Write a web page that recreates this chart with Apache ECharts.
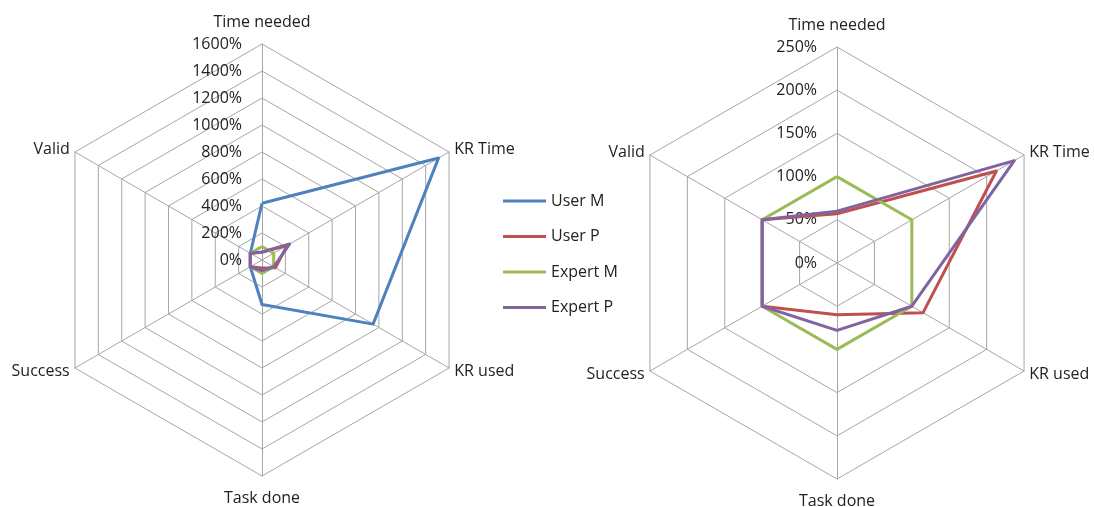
<!DOCTYPE html>
<html><head><meta charset="utf-8">
<script src="https://cdn.jsdelivr.net/npm/echarts@6/dist/echarts.min.js"></script>
<style>html,body{margin:0;padding:0;background:#fff}#c{width:1094px;height:507px}</style>
</head><body><div id="c"></div>
<script>
// Categories in the reference (clockwise from top)
const categories = ['Time needed', 'KR Time', 'KR used', 'Task done', 'Success', 'Valid'];
const seriesNames = ['User M', 'User P', 'Expert M', 'Expert P'];
const userM   = [420, 1510, 950, 330, 100, 100];
const userP   = [57, 213, 115, 60, 100, 100];
const expertM = [100, 100, 100, 100, 100, 100];
const expertP = [60, 237, 100, 78, 100, 100];
const leftMax = 1600, leftStep = 200;
const rightMax = 250, rightStep = 50;
const colors = ['#4F81BD', '#C0504D', '#9BBB59', '#8064A2'];

// ECharts radar goes counter-clockwise; reorder to keep the clockwise look
const order = [0, 5, 4, 3, 2, 1];
const reorder = arr => order.map(i => arr[i]);
const all = [userM, userP, expertM, expertP];

const font = 'Open Sans, Liberation Sans, sans-serif';
function radarCfg(center, max, step) {
  return {
    center: center, radius: 216, startAngle: 90, shape: 'polygon',
    splitNumber: max / step,
    indicator: order.map((i, k) => {
      const ind = { name: categories[i], min: 0, max: max };
      if (k === 0) ind.axisLabel = { show: true };
      if (k === 0 || k === 3) ind.nameGap = 14;
      return ind;
    }),
    axisName: { color: '#222', fontSize: 16, fontFamily: font },
    nameGap: 6,
    axisLine: { lineStyle: { color: '#A6A6A6', width: 1 } },
    splitLine: { lineStyle: { color: '#A6A6A6', width: 1 } },
    splitArea: { show: false },
    axisTick: { show: false },
    axisLabel: { show: false, color: '#222', fontSize: 16, fontFamily: font,
      formatter: v => v + '%', margin: 20, align: 'right', verticalAlign: 'middle', rotate: 0 }
  };
}
function items(idxs) {
  return idxs.map(s => ({
    name: seriesNames[s], value: reorder(all[s]),
    lineStyle: { color: colors[s], width: 3 },
    itemStyle: { color: colors[s] }
  }));
}
const chart = echarts.init(document.getElementById('c'), null, { renderer: 'canvas' });
chart.setOption({
  backgroundColor: '#fff',
  animation: false,
  legend: {
    orient: 'vertical', left: 498, top: 188, icon: 'rect', itemWidth: 43, itemHeight: 3,
    itemGap: 19.5, textStyle: { fontSize: 16, fontFamily: font, color: '#222' },
    data: seriesNames
  },
  radar: [radarCfg([262, 260], leftMax, leftStep), radarCfg([837, 263], rightMax, rightStep)],
  series: [
    { type: 'radar', radarIndex: 0, symbol: 'none', data: items([0, 1, 2, 3]) },
    { type: 'radar', radarIndex: 1, symbol: 'none', data: items([1, 2, 3]) }
  ]
});
</script></body></html>
